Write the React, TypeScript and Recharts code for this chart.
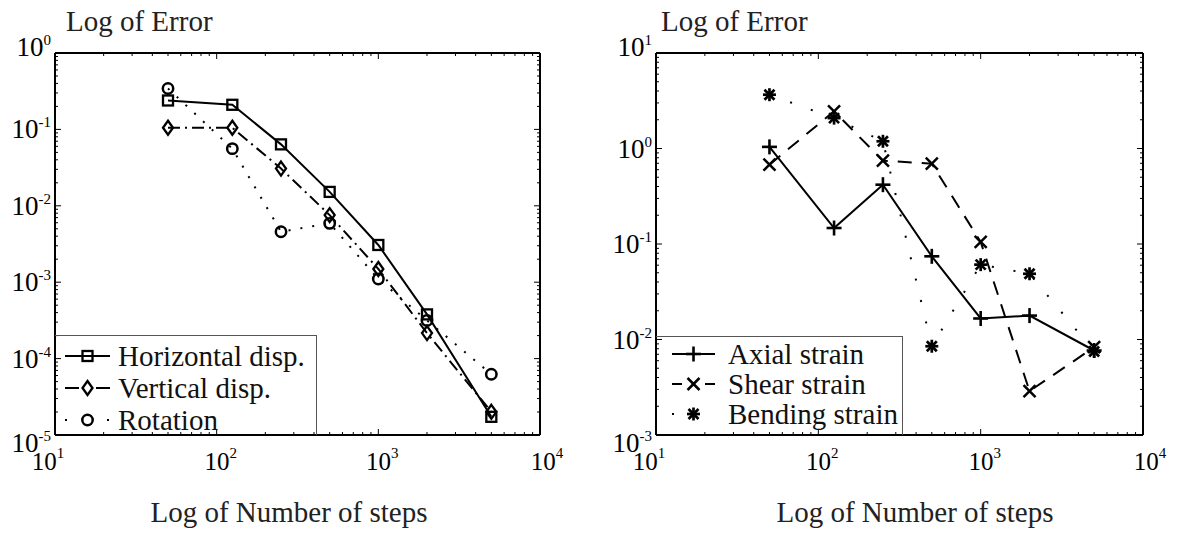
import { LineChart, Line, XAxis, YAxis, Legend } from "recharts";

// number of steps (x) shared by both panels
const steps = [50, 125, 250, 500, 1000, 2000, 5000];

// left panel: displacement / rotation errors
const horizontalDisp = [0.239, 0.21, 0.0637, 0.0152, 0.00307, 0.000379, 0.0000173];
const verticalDisp = [0.105, 0.105, 0.0307, 0.00755, 0.00149, 0.000216, 0.0000201];
const rotation = [0.343, 0.056, 0.00458, 0.00589, 0.0011, 0.000316, 0.0000625];

// right panel: strain errors
const axialStrain = [1.04, 0.147, 0.418, 0.0743, 0.0166, 0.0178, 0.00767];
const shearStrain = [0.678, 2.45, 0.746, 0.694, 0.105, 0.00288, 0.0083];
const bendingStrain = [3.66, 2.08, 1.19, 0.0085, 0.0608, 0.0488, 0.0075];

// decades used for ticks
const xDecades = [10, 100, 1000, 10000];
const leftDecades = [0.00001, 0.0001, 0.001, 0.01, 0.1, 1];
const rightDecades = [0.001, 0.01, 0.1, 1, 10];
const minorSteps = [2, 3, 4, 5, 6, 7, 8, 9];

const yTitle = "Log of Error";
const xTitle = "Log of Number of steps";

const FONT = '"Liberation Serif", "Times New Roman", serif';
const H = 534;

type MarkerKind = "square" | "diamond" | "circle" | "plus" | "cross" | "star";

type Spec = {
  key: string;
  name: string;
  values: number[];
  dash?: string;
  legendDash?: string;
  marker: MarkerKind;
};

const leftSpecs: Spec[] = [
  { key: "horiz", name: "Horizontal disp.", values: horizontalDisp, marker: "square" },
  { key: "vert", name: "Vertical disp.", values: verticalDisp, dash: "12 5 2 5", legendDash: "14 17 14", marker: "diamond" },
  { key: "rot", name: "Rotation", values: rotation, dash: "2 10", legendDash: "2 40 2", marker: "circle" },
];

const rightSpecs: Spec[] = [
  { key: "axial", name: "Axial strain", values: axialStrain, marker: "plus" },
  { key: "shear", name: "Shear strain", values: shearStrain, dash: "14 10", legendDash: "10 23 10", marker: "cross" },
  { key: "bend", name: "Bending strain", values: bendingStrain, dash: "2 20", legendDash: "2 100", marker: "star" },
];

function buildTicks(decades: number[]) {
  const out: number[] = [];
  decades.forEach((d, i) => {
    out.push(d);
    if (i < decades.length - 1) minorSteps.forEach((m) => out.push(m * d));
  });
  return out;
}

const isMajor = (v: number) => Math.abs(Math.log10(v) - Math.round(Math.log10(v))) < 1e-6;
const expOf = (v: number) => String(Math.round(Math.log10(v)));
const same = (a: number, b: number) => Math.abs(Math.log10(a) - Math.log10(b)) < 1e-6;

function Marker({ kind, cx, cy }: { kind: MarkerKind; cx: number; cy: number }) {
  const s = { stroke: "#000", fill: "none", strokeWidth: 2.3 };
  switch (kind) {
    case "square":
      return <rect x={cx - 5} y={cy - 5} width={10} height={10} {...s} />;
    case "diamond":
      return <path d={`M${cx},${cy - 7} L${cx + 5},${cy} L${cx},${cy + 7} L${cx - 5},${cy} Z`} {...s} />;
    case "circle":
      return <circle cx={cx} cy={cy} r={5.2} {...s} strokeWidth={2.5} />;
    case "plus":
      return (
        <g {...s} strokeWidth={2.6}>
          <line x1={cx - 7.5} x2={cx + 7.5} y1={cy} y2={cy} />
          <line x1={cx} x2={cx} y1={cy - 7.5} y2={cy + 7.5} />
        </g>
      );
    case "cross":
      return (
        <g {...s} strokeWidth={2.5}>
          <line x1={cx - 6} x2={cx + 6} y1={cy - 6} y2={cy + 6} />
          <line x1={cx - 6} x2={cx + 6} y1={cy + 6} y2={cy - 6} />
        </g>
      );
    default:
      return (
        <g {...s} strokeWidth={2.7}>
          <line x1={cx - 6.5} x2={cx + 6.5} y1={cy} y2={cy} />
          <line x1={cx} x2={cx} y1={cy - 6.5} y2={cy + 6.5} />
          <line x1={cx - 5} x2={cx + 5} y1={cy - 5} y2={cy + 5} />
          <line x1={cx - 5} x2={cx + 5} y1={cy + 5} y2={cy - 5} />
        </g>
      );
  }
}

const tickStroke = { stroke: "#000", strokeWidth: 1 };

const makeBottomTick = (decades: number[]) => (p: any) => {
  const { x, y, payload } = p;
  const v = payload.value;
  const major = isMajor(v);
  const shift = same(v, decades[0]) ? -7 : same(v, decades[decades.length - 1]) ? 7 : 4;
  return (
    <g>
      <line x1={x} x2={x} y1={y} y2={y - (major ? 6 : 3)} {...tickStroke} />
      {major && (
        <text x={x + shift} y={y + 35} textAnchor="middle" fontFamily={FONT} fontSize={25} fill="#000" stroke="none">
          10
          <tspan dy={-12} fontSize={15}>{expOf(v)}</tspan>
        </text>
      )}
    </g>
  );
};

const TopTick = (p: any) => {
  const { x, y, payload } = p;
  const major = isMajor(payload.value);
  return <line x1={x} x2={x} y1={y} y2={y + (major ? 6 : 3)} {...tickStroke} />;
};

const makeLeftTick = (decades: number[]) => (p: any) => {
  const { x, y, payload } = p;
  const v = payload.value;
  const major = isMajor(v);
  // top label sits a little higher, bottom label a little lower
  const base = same(v, decades[decades.length - 1]) ? 3 : same(v, decades[0]) ? 17 : 9;
  return (
    <g>
      <line x1={x} x2={x + (major ? 6 : 3)} y1={y} y2={y} {...tickStroke} />
      {major && (
        <text x={x - 4} y={y + base} textAnchor="end" fontFamily={FONT} fontSize={27} fill="#000" stroke="none">
          10
          <tspan dy={-11} fontSize={15}>{expOf(v)}</tspan>
        </text>
      )}
    </g>
  );
};

const RightTick = (p: any) => {
  const { x, y, payload } = p;
  const major = isMajor(payload.value);
  return <line x1={x} x2={x - (major ? 6 : 3)} y1={y} y2={y} {...tickStroke} />;
};

type PanelProps = {
  left: number;
  width: number;
  specs: Spec[];
  yDecades: number[];
  margin: { top: number; right: number; bottom: number; left: number };
  legendBox: { left: number; top: number; width: number; height: number };
  legendRows: { first: number; gap: number; lineX: [number, number]; textX: number };
  titleX: number;
  xTitleX: number;
};

function Panel({ left, width, specs, yDecades, margin, legendBox, legendRows, titleX, xTitleX }: PanelProps) {
  const data = steps.map((s, i) => {
    const row: Record<string, number> = { steps: s };
    specs.forEach((sp) => (row[sp.key] = sp.values[i]));
    return row;
  });
  const xTicks = buildTicks(xDecades);
  const yTicks = buildTicks(yDecades);
  const yDomain = [yDecades[0], yDecades[yDecades.length - 1]];
  const axisLine = { stroke: "#000", strokeWidth: 2 };
  const BottomTick = makeBottomTick(xDecades);
  const LeftTick = makeLeftTick(yDecades);

  // legend rows follow the series order
  const renderLegend = () => (
    <div
      style={{
        width: legendBox.width,
        height: legendBox.height,
        boxSizing: "border-box",
        borderTop: "1.5px solid #555",
        borderRight: "1.5px solid #555",
      }}
    >
      <svg width={legendBox.width} height={legendBox.height} style={{ display: "block" }}>
        {specs.map((sp, i) => {
          const cy = legendRows.first + i * legendRows.gap;
          const [x1, x2] = legendRows.lineX;
          return (
            <g key={sp.key}>
              <line x1={x1} x2={x2} y1={cy} y2={cy} stroke="#000" strokeWidth={2} strokeDasharray={sp.legendDash} />
              <Marker kind={sp.marker} cx={(x1 + x2) / 2} cy={cy} />
              <text x={legendRows.textX} y={cy + 10} fontFamily={FONT} fontSize={29} fill="#111">
                {sp.name}
              </text>
            </g>
          );
        })}
      </svg>
    </div>
  );

  const common = {
    type: "number" as const,
    scale: "log" as const,
    allowDataOverflow: true,
    interval: 0 as const,
    tickSize: 0,
    tickMargin: 0,
    tickLine: false,
    stroke: "#000",
    axisLine,
  };

  return (
    <div style={{ position: "absolute", left, top: 0, width, height: H }}>
      <LineChart width={width} height={H} data={data} margin={margin}>
        <XAxis {...common} dataKey="steps" domain={[10, 10000]} ticks={xTicks} height={1} tick={(p: any) => <BottomTick {...p} />} />
        <XAxis {...common} xAxisId="top" orientation="top" dataKey="steps" domain={[10, 10000]} ticks={xTicks} height={1} tick={(p: any) => <TopTick {...p} />} />
        <YAxis {...common} domain={yDomain} ticks={yTicks} width={1} tick={(p: any) => <LeftTick {...p} />} />
        <YAxis {...common} yAxisId="right" orientation="right" domain={yDomain} ticks={yTicks} width={1} tick={(p: any) => <RightTick {...p} />} />
        <Legend
          layout="vertical"
          align="center"
          verticalAlign="middle"
          content={renderLegend}
          wrapperStyle={{ position: "absolute", left: legendBox.left, top: legendBox.top, width: legendBox.width, height: legendBox.height }}
        />
        {specs.map((sp) => (
          <Line
            key={sp.key}
            dataKey={sp.key}
            name={sp.name}
            type="linear"
            stroke="#000"
            strokeWidth={2}
            strokeDasharray={sp.dash}
            isAnimationActive={false}
            activeDot={false}
            dot={(p: any) => <Marker key={`${sp.key}-${p.index}`} kind={sp.marker} cx={p.cx} cy={p.cy} />}
          />
        ))}
      </LineChart>
      <svg width={width} height={H} style={{ position: "absolute", left: 0, top: 0, pointerEvents: "none" }}>
        <text x={titleX} y={31} fontFamily={FONT} fontSize={29} fill="#222">
          {yTitle}
        </text>
        <text x={xTitleX} y={522} textAnchor="middle" fontFamily={FONT} fontSize={29} fill="#222">
          {xTitle}
        </text>
      </svg>
    </div>
  );
}

export default function App() {
  return (
    <div style={{ position: "absolute", left: 0, top: 0, width: 1179, height: H, background: "#fff", overflow: "hidden" }}>
      <Panel
        left={0}
        width={590}
        specs={leftSpecs}
        yDecades={leftDecades}
        margin={{ top: 52, right: 49, bottom: 98, left: 54 }}
        legendBox={{ left: 55, top: 335, width: 262, height: 100 }}
        legendRows={{ first: 20, gap: 32, lineX: [10, 55], textX: 63 }}
        titleX={66}
        xTitleX={289}
      />
      <Panel
        left={590}
        width={589}
        specs={rightSpecs}
        yDecades={rightDecades}
        margin={{ top: 52, right: 35, bottom: 98, left: 65 }}
        legendBox={{ left: 66, top: 336, width: 247, height: 99 }}
        legendRows={{ first: 17, gap: 30, lineX: [16, 59], textX: 72 }}
        titleX={71}
        xTitleX={325}
      />
    </div>
  );
}
